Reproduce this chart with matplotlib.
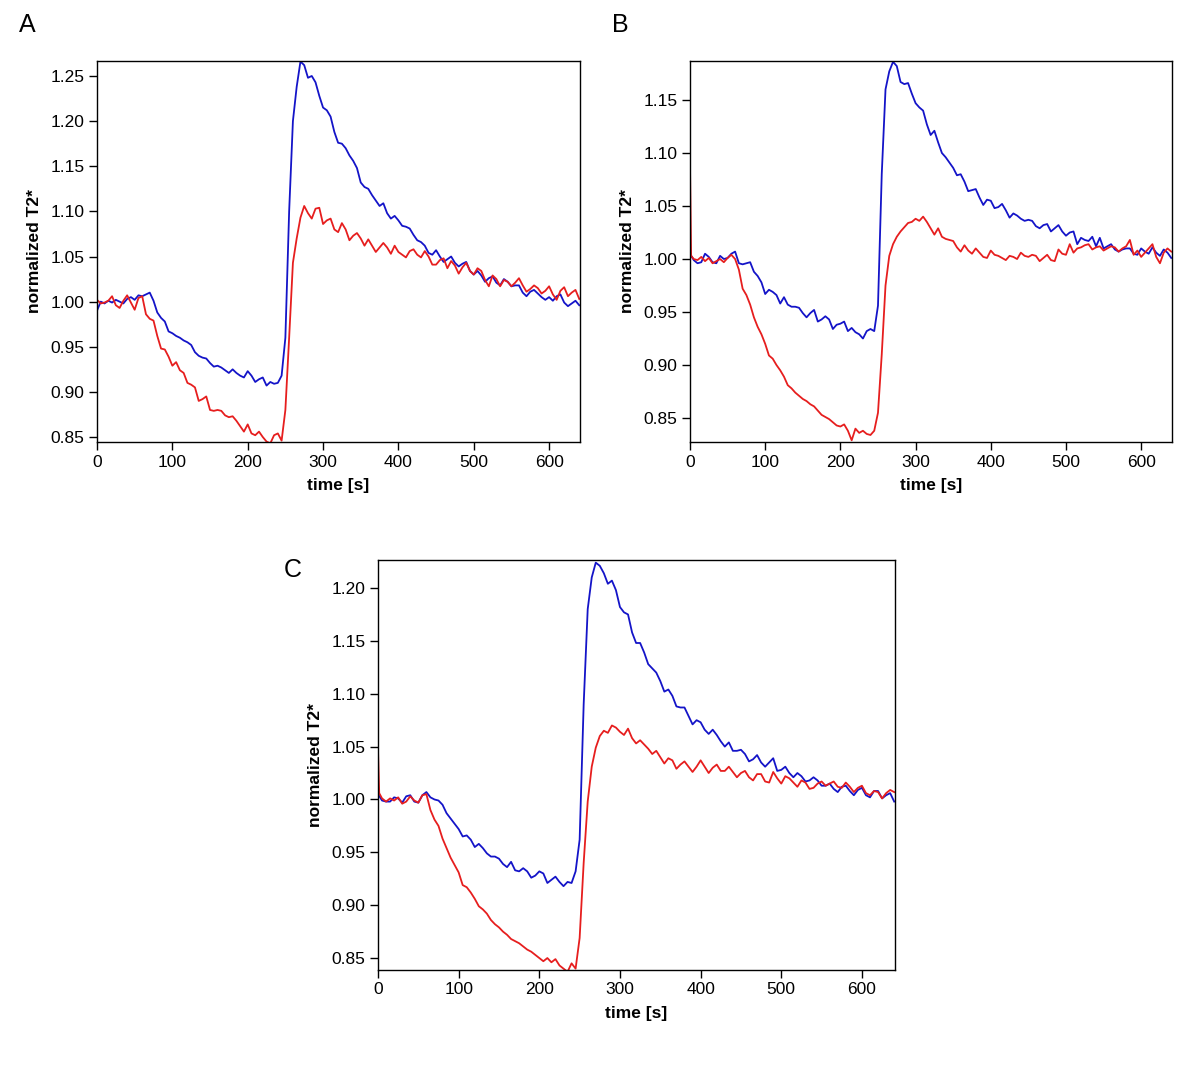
import numpy as np
import matplotlib
matplotlib.use('Agg')
import matplotlib.pyplot as plt

plt.rcParams['font.family'] = ['Liberation Sans', 'DejaVu Sans']

# time grid (s); red traces in B and C have an extra sample for the start spike
t = np.arange(0, 641, 5)
t_sp = np.r_[0, 1.5, t[1:]]

blue_A = [
    0.990, 1.000, 0.998, 1.001, 0.999, 1.002, 1.000, 0.998, 1.003, 1.005,
    1.002, 1.007, 1.006, 1.008, 1.010, 1.001, 0.988, 0.982, 0.978, 0.967,
    0.965, 0.962, 0.960, 0.957, 0.955, 0.952, 0.944, 0.940, 0.938, 0.937,
    0.932, 0.928, 0.929, 0.927, 0.924, 0.921, 0.925, 0.921, 0.918, 0.916,
    0.923, 0.918, 0.911, 0.914, 0.916, 0.907, 0.911, 0.909, 0.910, 0.918,
    0.960, 1.100, 1.200, 1.238, 1.266, 1.262, 1.248, 1.250, 1.243, 1.228,
    1.215, 1.212, 1.205, 1.188, 1.176, 1.175, 1.170, 1.162, 1.156, 1.148,
    1.132, 1.127, 1.125, 1.118, 1.112, 1.106, 1.109, 1.098, 1.092, 1.095,
    1.090, 1.084, 1.083, 1.081, 1.074, 1.068, 1.066, 1.062, 1.054, 1.052,
    1.057, 1.050, 1.044, 1.047, 1.050, 1.043, 1.039, 1.042, 1.044, 1.034,
    1.030, 1.034, 1.029, 1.022, 1.026, 1.028, 1.021, 1.018, 1.025, 1.022,
    1.017, 1.018, 1.018, 1.010, 1.006, 1.011, 1.013, 1.009, 1.005, 1.002,
    1.005, 1.001, 1.006, 1.008, 0.999, 0.995, 0.998, 1.001, 0.996]
red_A = [
    1.002, 0.998, 0.999, 1.001, 1.006, 0.996, 0.993, 1.001, 1.007, 0.999,
    0.991, 1.004, 1.006, 0.986, 0.981, 0.979, 0.962, 0.948, 0.947, 0.939,
    0.929, 0.933, 0.924, 0.921, 0.910, 0.908, 0.905, 0.890, 0.892, 0.895,
    0.880, 0.879, 0.880, 0.879, 0.874, 0.872, 0.873, 0.868, 0.862, 0.856,
    0.864, 0.854, 0.852, 0.856, 0.850, 0.845, 0.843, 0.852, 0.854, 0.846,
    0.880, 0.960, 1.043, 1.070, 1.093, 1.106, 1.098, 1.092, 1.103, 1.104,
    1.086, 1.090, 1.092, 1.080, 1.077, 1.087, 1.080, 1.068, 1.073, 1.076,
    1.070, 1.062, 1.069, 1.062, 1.055, 1.060, 1.065, 1.060, 1.053, 1.062,
    1.055, 1.052, 1.049, 1.056, 1.058, 1.052, 1.049, 1.056, 1.050, 1.041,
    1.041, 1.046, 1.048, 1.037, 1.045, 1.040, 1.031, 1.038, 1.043, 1.034,
    1.030, 1.037, 1.034, 1.024, 1.017, 1.029, 1.025, 1.017, 1.024, 1.022,
    1.017, 1.021, 1.026, 1.018, 1.011, 1.014, 1.018, 1.015, 1.009, 1.012,
    1.017, 1.008, 1.002, 1.012, 1.016, 1.006, 1.010, 1.013, 1.003]

blue_B = [
    1.005, 0.999, 0.996, 0.997, 1.005, 1.002, 0.997, 0.996, 1.003, 1.000,
    1.001, 1.005, 1.007, 0.996, 0.995, 0.996, 0.997, 0.988, 0.984, 0.978,
    0.967, 0.971, 0.969, 0.966, 0.958, 0.964, 0.957, 0.955, 0.955, 0.954,
    0.949, 0.945, 0.949, 0.952, 0.941, 0.943, 0.946, 0.943, 0.934, 0.938,
    0.939, 0.941, 0.932, 0.935, 0.931, 0.929, 0.925, 0.932, 0.934, 0.932,
    0.956, 1.080, 1.160, 1.177, 1.186, 1.182, 1.167, 1.165, 1.166, 1.156,
    1.147, 1.143, 1.140, 1.127, 1.117, 1.121, 1.110, 1.100, 1.096, 1.091,
    1.086, 1.079, 1.080, 1.073, 1.064, 1.065, 1.066, 1.058, 1.051, 1.056,
    1.055, 1.048, 1.049, 1.052, 1.046, 1.039, 1.043, 1.041, 1.038, 1.036,
    1.037, 1.036, 1.031, 1.029, 1.032, 1.033, 1.026, 1.029, 1.032, 1.026,
    1.022, 1.025, 1.026, 1.014, 1.020, 1.018, 1.017, 1.021, 1.012, 1.020,
    1.010, 1.012, 1.014, 1.009, 1.007, 1.009, 1.010, 1.010, 1.005, 1.004,
    1.010, 1.007, 1.005, 1.011, 1.006, 1.003, 1.009, 1.006, 1.001]
red_B = [
    1.088, 1.003,
    1.000, 0.999, 1.002, 0.998, 1.001, 0.996, 0.998, 1.000, 0.997,
    1.001, 1.004, 1.000, 0.990, 0.972, 0.966, 0.957, 0.945, 0.936, 0.929,
    0.920, 0.909, 0.906, 0.900, 0.895, 0.889, 0.881, 0.878, 0.874, 0.871,
    0.868, 0.866, 0.863, 0.861, 0.857, 0.853, 0.851, 0.849, 0.846, 0.843,
    0.842, 0.844, 0.838, 0.829, 0.840, 0.836, 0.838, 0.835, 0.834, 0.838,
    0.855, 0.910, 0.975, 1.003, 1.014, 1.021, 1.026, 1.030, 1.034, 1.035,
    1.038, 1.036, 1.040, 1.035, 1.029, 1.023, 1.029, 1.021, 1.019, 1.018,
    1.017, 1.011, 1.007, 1.013, 1.008, 1.005, 1.010, 1.006, 1.002, 1.001,
    1.008, 1.004, 1.003, 1.001, 0.999, 1.003, 1.002, 1.000, 1.006, 1.003,
    1.002, 1.004, 1.003, 0.998, 1.001, 1.004, 0.999, 0.998, 1.009, 1.005,
    1.004, 1.014, 1.006, 1.010, 1.011, 1.013, 1.014, 1.009, 1.011, 1.012,
    1.008, 1.010, 1.012, 1.011, 1.007, 1.010, 1.012, 1.018, 1.004, 1.008,
    1.002, 1.006, 1.010, 1.014, 1.002, 0.996, 1.006, 1.010, 1.007]

blue_C = [
    1.005, 0.999, 0.998, 0.998, 1.002, 1.001, 0.997, 1.003, 1.004, 0.998,
    0.997, 1.004, 1.007, 1.002, 1.000, 0.999, 0.995, 0.987, 0.982, 0.977,
    0.972, 0.965, 0.966, 0.962, 0.955, 0.958, 0.954, 0.949, 0.946, 0.946,
    0.944, 0.939, 0.936, 0.941, 0.933, 0.932, 0.935, 0.932, 0.926, 0.928,
    0.932, 0.930, 0.921, 0.924, 0.927, 0.922, 0.918, 0.922, 0.921, 0.932,
    0.962, 1.090, 1.180, 1.210, 1.224, 1.221, 1.214, 1.204, 1.207, 1.198,
    1.182, 1.177, 1.175, 1.158, 1.148, 1.148, 1.139, 1.128, 1.124, 1.120,
    1.112, 1.102, 1.104, 1.098, 1.088, 1.087, 1.087, 1.079, 1.071, 1.075,
    1.073, 1.066, 1.062, 1.066, 1.061, 1.055, 1.050, 1.054, 1.046, 1.046,
    1.047, 1.043, 1.036, 1.038, 1.042, 1.035, 1.031, 1.035, 1.039, 1.027,
    1.028, 1.031, 1.025, 1.021, 1.025, 1.022, 1.017, 1.018, 1.021, 1.018,
    1.013, 1.013, 1.015, 1.010, 1.007, 1.012, 1.013, 1.008, 1.004, 1.009,
    1.011, 1.004, 1.002, 1.008, 1.008, 1.001, 1.004, 1.006, 0.998]
red_C = [
    1.047, 1.006,
    1.001, 0.998, 1.001, 0.999, 1.002, 0.996, 0.998, 1.003, 0.999,
    0.997, 1.004, 1.005, 0.990, 0.981, 0.975, 0.963, 0.954, 0.945, 0.938,
    0.931, 0.919, 0.917, 0.912, 0.906, 0.899, 0.896, 0.892, 0.886, 0.882,
    0.879, 0.875, 0.872, 0.868, 0.866, 0.864, 0.861, 0.858, 0.856, 0.853,
    0.850, 0.847, 0.850, 0.846, 0.849, 0.843, 0.840, 0.837, 0.845, 0.840,
    0.869, 0.940, 0.998, 1.031, 1.049, 1.060, 1.065, 1.063, 1.070, 1.068,
    1.064, 1.061, 1.067, 1.058, 1.053, 1.056, 1.052, 1.048, 1.043, 1.046,
    1.040, 1.034, 1.039, 1.037, 1.029, 1.033, 1.036, 1.031, 1.026, 1.031,
    1.037, 1.031, 1.025, 1.030, 1.033, 1.027, 1.027, 1.031, 1.026, 1.021,
    1.025, 1.027, 1.021, 1.018, 1.024, 1.024, 1.017, 1.016, 1.026, 1.020,
    1.015, 1.022, 1.020, 1.016, 1.012, 1.018, 1.016, 1.010, 1.011, 1.015,
    1.017, 1.013, 1.015, 1.017, 1.012, 1.011, 1.016, 1.012, 1.007, 1.011,
    1.013, 1.006, 1.004, 1.008, 1.007, 1.001, 1.006, 1.009, 1.007]

blue = '#1414c8'
red = '#e61e1e'

fig = plt.figure(figsize=(12, 10.75), dpi=100)
W, H = 1200., 1075.

def px_axes(x0, y0, x1, y1):
    return fig.add_axes([x0 / W, 1 - y1 / H, (x1 - x0) / W, (y1 - y0) / H])

panels = [
    # axes box in pixels, ylim, yticks, red time, blue, red, letter pos
    ((97, 61, 580, 442), (0.8445, 1.2666), np.arange(0.85, 1.26, 0.05), t, blue_A, red_A, 'A', (27, 25)),
    ((690, 61, 1172, 442), (0.8274, 1.1868), np.arange(0.85, 1.16, 0.05), t_sp, blue_B, red_B, 'B', (620, 25)),
    ((378, 560, 895, 970), (0.8387, 1.2265), np.arange(0.85, 1.21, 0.05), t_sp, blue_C, red_C, 'C', (293, 570)),
]

for box, ylim, yt, tr, b, r, letter, lpos in panels:
    ax = px_axes(*box)
    ax.plot(t, b, color=blue, lw=1.3)
    ax.plot(tr, r, color=red, lw=1.3)
    ax.set_xlim(0, 641)
    ax.set_ylim(*ylim)
    ax.set_xticks(np.arange(0, 601, 100))
    ax.set_yticks(yt)
    ax.set_yticklabels(['%.2f' % v for v in yt])
    ax.tick_params(direction='out', length=6, width=1, labelsize=12.5, pad=3)
    for s in ax.spines.values():
        s.set_linewidth(1)
    ax.set_xlabel('time [s]', fontsize=12.5, fontweight='bold', labelpad=6)
    ax.set_ylabel('normalized T2*', fontsize=12.5, fontweight='bold', labelpad=6)
    fig.text(lpos[0] / W, 1 - lpos[1] / H, letter, fontsize=18,
             ha='center', va='center')

fig.savefig('out.png', dpi=100)
